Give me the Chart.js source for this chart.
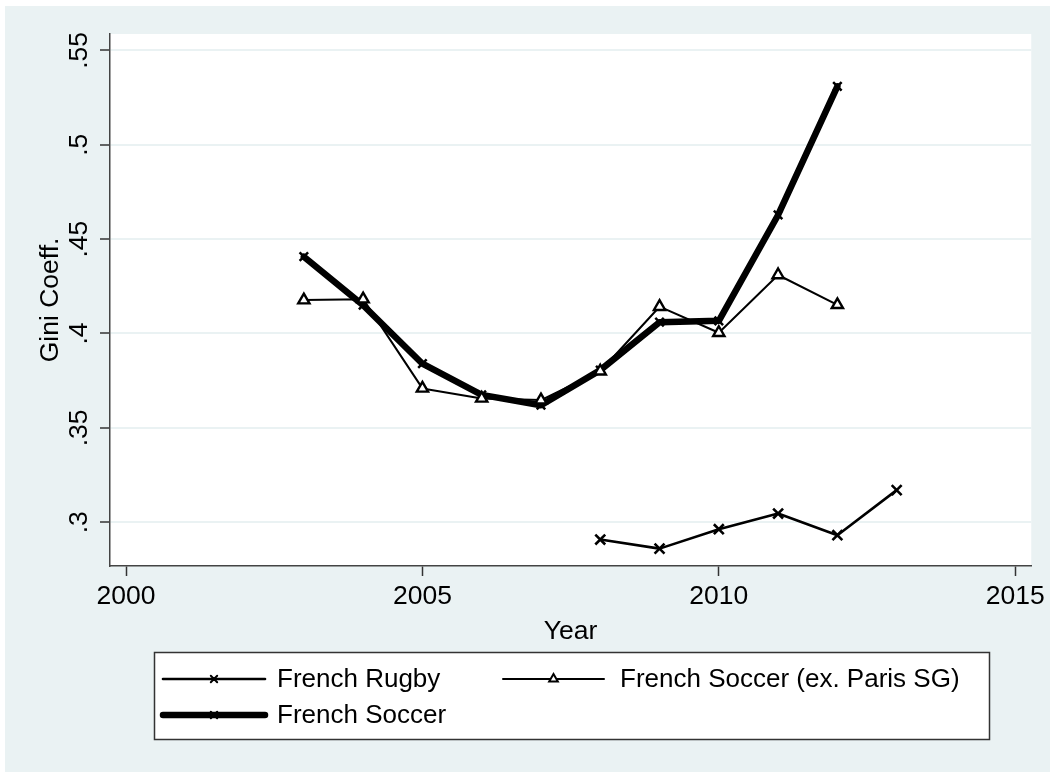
<!DOCTYPE html>
<html>
<head>
<meta charset="utf-8">
<script src="https://cdn.jsdelivr.net/npm/chart.js@4/dist/chart.umd.min.js"></script>
<style>
  html, body { margin: 0; padding: 0; background: #ffffff; }
  #wrap { width: 1050px; height: 772px; }
</style>
</head>
<body>
<div id="wrap"><canvas id="c" width="1050" height="772"></canvas></div>
<script>
// ---- data ----
const seriesNames = ['French Rugby', 'French Soccer (ex. Paris SG)', 'French Soccer'];
const rugbyYears = [2008, 2009, 2010, 2011, 2012, 2013];
const rugbyGini = [0.2908, 0.2860, 0.2963, 0.3046, 0.2931, 0.3170];
const soccerYears = [2003, 2004, 2005, 2006, 2007, 2008, 2009, 2010, 2011, 2012];
const soccerExPsgGini = [0.4177, 0.4182, 0.3709, 0.3656, 0.3647, 0.3800, 0.4142, 0.4004, 0.4310, 0.4152];
const soccerGini = [0.4407, 0.4150, 0.3840, 0.3675, 0.3620, 0.3806, 0.4060, 0.4067, 0.4628, 0.5310];
const xTickValues = [2000, 2005, 2010, 2015];
const xTickLabels = ['2000', '2005', '2010', '2015'];
const yTickValues = [0.30, 0.35, 0.40, 0.45, 0.50, 0.55];
const yTickLabels = ['.3', '.35', '.4', '.45', '.5', '.55'];
const xTitle = 'Year';
const yTitle = 'Gini Coeff.';

const pts = (xs, ys) => xs.map((x, i) => ({ x: x, y: ys[i] }));

const FONT = "'Liberation Sans', Arial, sans-serif";
const BG = '#EAF2F3';

const bgPlugin = {
  id: 'bgPlugin',
  beforeDraw(chart) {
    const ctx = chart.ctx;
    const a = chart.chartArea;
    ctx.save();
    ctx.fillStyle = '#ffffff';
    ctx.fillRect(0, 0, chart.width, chart.height);
    ctx.fillStyle = BG;
    ctx.fillRect(5, 6, chart.width - 5, chart.height - 6);
    ctx.fillStyle = '#ffffff';
    ctx.fillRect(a.left, a.top, a.right - a.left, a.bottom - a.top);
    ctx.restore();
  }
};

const legendPlugin = {
  id: 'stataLegend',
  afterDraw(chart) {
    const ctx = chart.ctx;
    const box = { x: 154.5, y: 652.5, w: 835, h: 87 };
    ctx.save();
    ctx.fillStyle = '#ffffff';
    ctx.fillRect(box.x, box.y, box.w, box.h);
    ctx.strokeStyle = '#333333';
    ctx.lineWidth = 1.5;
    ctx.strokeRect(box.x, box.y, box.w, box.h);
    const slots = [
      { x0: 163, x1: 265, y: 679, tx: 277, r: 4.5 },
      { x0: 503, x1: 604, y: 679, tx: 620, r: 5 },
      { x0: 163, x1: 265, y: 715, tx: 277, r: 4.5 }
    ];
    chart.data.datasets.forEach((ds, i) => {
      const s = slots[i];
      ctx.strokeStyle = '#000';
      ctx.lineWidth = ds.borderWidth;
      ctx.lineCap = 'round';
      ctx.beginPath();
      ctx.moveTo(s.x0, s.y);
      ctx.lineTo(s.x1, s.y);
      ctx.stroke();
      const mx = (s.x0 + s.x1) / 2;
      ctx.strokeStyle = '#000';
      ctx.fillStyle = ds.pointBackgroundColor || '#000';
      ctx.lineWidth = 2;
      Chart.helpers.drawPoint(ctx, {
        pointStyle: ds.pointStyle,
        rotation: 0,
        radius: s.r,
        borderWidth: 2
      }, mx, s.y);
      ctx.fillStyle = '#000';
      ctx.font = '26px ' + FONT;
      ctx.textAlign = 'left';
      ctx.textBaseline = 'middle';
      ctx.fillText(ds.label, s.tx, s.y + 1);
    });
    ctx.restore();
  }
};

const chart = new Chart(document.getElementById('c'), {
  type: 'line',
  data: {
    datasets: [
      {
        label: seriesNames[0],
        data: pts(rugbyYears, rugbyGini),
        borderColor: '#000', backgroundColor: '#000',
        borderWidth: 2.6,
        pointStyle: 'crossRot', pointRadius: 7, pointBorderWidth: 2.6,
        pointBorderColor: '#000',
        order: 1
      },
      {
        label: seriesNames[1],
        data: pts(soccerYears, soccerExPsgGini),
        borderColor: '#000', backgroundColor: '#fff',
        borderWidth: 2,
        pointStyle: 'triangle', pointRadius: 6.5, pointBorderWidth: 2.4,
        pointBorderColor: '#000', pointBackgroundColor: '#fff',
        order: 0
      },
      {
        label: seriesNames[2],
        data: pts(soccerYears, soccerGini),
        borderColor: '#000', backgroundColor: '#000',
        borderWidth: 6.5,
        pointStyle: 'crossRot', pointRadius: 6, pointBorderWidth: 2.5,
        pointBorderColor: '#000',
        order: 2
      }
    ]
  },
  options: {
    responsive: false,
    animation: false,
    devicePixelRatio: 1,
    layout: { padding: { left: 0, top: 34, right: 17, bottom: 120 } },
    plugins: {
      legend: { display: false },
      tooltip: { enabled: false }
    },
    elements: { line: { tension: 0, borderJoinStyle: 'round', borderCapStyle: 'round' } },
    scales: {
      x: {
        type: 'linear',
        min: 1999.73,
        max: 2015.27,
        afterBuildTicks(scale) { scale.ticks = xTickValues.map(v => ({ value: v })); },
        afterFit(scale) { scale.height = 86; },
        ticks: {
          callback: (v, i) => xTickLabels[i],
          font: { family: FONT, size: 26.5 },
          color: '#000',
          padding: 5,
          maxRotation: 0, minRotation: 0,
          autoSkip: false
        },
        grid: {
          display: true, drawOnChartArea: false, drawTicks: true,
          tickLength: 10, tickColor: '#333', tickWidth: 1.5
        },
        border: { display: true, color: '#444', width: 1.5 },
        title: {
          display: true, text: xTitle, color: '#000',
          font: { family: FONT, size: 26.5 },
          padding: { top: 0, bottom: 4 }
        }
      },
      y: {
        type: 'linear',
        min: 0.2768,
        max: 0.5587,
        afterBuildTicks(scale) { scale.ticks = yTickValues.map(v => ({ value: v })); },
        afterFit(scale) { scale.width = 110; },
        ticks: {
          callback: (v, i) => yTickLabels[i],
          font: { family: FONT, size: 26.5 },
          color: '#000',
          padding: 2,
          minRotation: 90, maxRotation: 90,
          crossAlign: 'center',
          autoSkip: false
        },
        grid: {
          display: true, drawOnChartArea: true, drawTicks: true,
          color: BG, lineWidth: 2,
          tickLength: 10, tickColor: '#333', tickWidth: 1.5
        },
        border: { display: true, color: '#444', width: 1.5 },
        title: {
          display: true, text: yTitle, color: '#000',
          font: { family: FONT, size: 26.5 },
          padding: { top: 34.6, bottom: 0 }
        }
      }
    }
  },
  plugins: [bgPlugin, legendPlugin]
});
</script>
</body>
</html>
